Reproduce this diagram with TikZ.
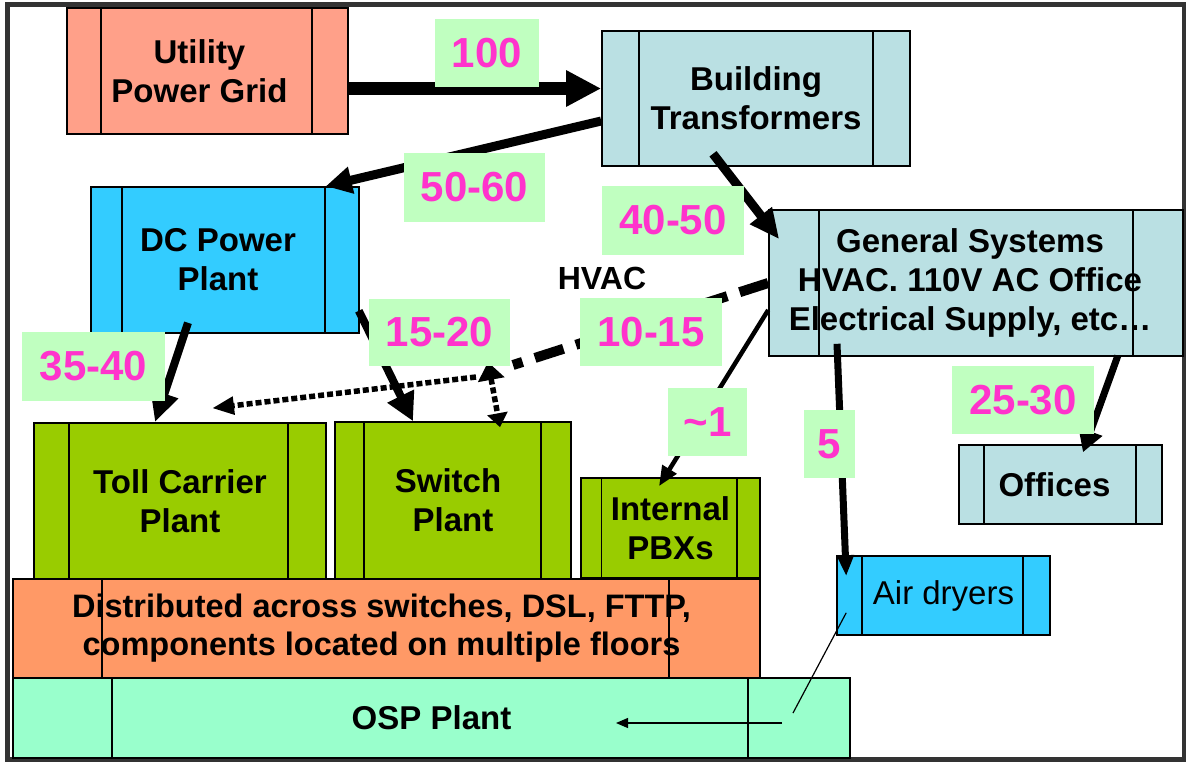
\documentclass[tikz,border=0pt]{standalone}
\usepackage{fontspec}
\setmainfont{Liberation Sans}
\usetikzlibrary{arrows.meta}
\definecolor{cUtil}{RGB}{255,160,137}
\definecolor{cBT}{RGB}{186,224,227}
\definecolor{cDC}{RGB}{51,204,255}
\definecolor{cGreen}{RGB}{153,204,0}
\definecolor{cDist}{RGB}{255,153,102}
\definecolor{cOSP}{RGB}{153,255,204}
\definecolor{cLbl}{RGB}{192,255,192}
\definecolor{cMag}{RGB}{255,51,204}
\definecolor{cFrame}{RGB}{51,51,51}
\tikzset{
  pbox/.style n args={4}{draw=black, line width=1.6pt, inner sep=0pt, align=center,
    minimum width=#1, minimum height=#2,
    font=\bfseries\fontsize{33}{39}\selectfont,
    path picture={
      \draw[line width=1.2pt] ([xshift=#3]path picture bounding box.north west) -- ([xshift=#3]path picture bounding box.south west);
      \draw[line width=1.2pt] ([xshift=-#4]path picture bounding box.north east) -- ([xshift=-#4]path picture bounding box.south east);
    }},
  lbl/.style 2 args={fill=cLbl, draw=none, inner sep=0pt, minimum width=#1, minimum height=#2,
    text=cMag, font=\bfseries\fontsize{42}{42}\selectfont},
  flow/.style={draw=black, line cap=butt},
  dashln/.style={draw=black, line width=10pt, dash pattern=on 30pt off 13pt},
  dotln/.style={draw=black, line width=5.5pt, dash pattern=on 6pt off 3pt},
  thinln/.style={draw=black, line width=1.2pt}
}
\begin{document}
\begin{tikzpicture}[x=1pt,y=-1pt]
\useasboundingbox (0,0) rectangle (1186,761);
\draw[cFrame, line width=5pt] (7,4.5) rectangle (1184,759);

% boxes
\node[pbox={281pt}{126pt}{34pt}{36pt}, fill=cUtil] (util) at (207.5,71) {\hspace*{-16pt}Utility\\\hspace*{-16pt}Power Grid};
\node[pbox={308pt}{135pt}{37pt}{37pt}, fill=cBT] (bt) at (756,98.5) {Building\\Transformers};
\node[pbox={268pt}{146pt}{31pt}{34pt}, fill=cDC] (dc) at (225,260) {\hspace*{-14pt}DC Power\\\hspace*{-14pt}Plant};
\node[pbox={414pt}{146pt}{50pt}{50pt}, fill=cBT] (gs) at (976,283) {\hspace*{-12pt}General Systems\\\hspace*{-12pt}HVAC. 110V AC Office\\\hspace*{-12pt}Electrical Supply, etc…};
\node[pbox={292pt}{156pt}{35pt}{38pt}, fill=cGreen] (toll) at (180,501) {Toll Carrier\\Plant};
\node[pbox={236pt}{157pt}{29pt}{30pt}, fill=cGreen] (sw) at (453,500.5) {\hspace*{-10pt}Switch\\Plant};
\node[pbox={179pt}{100pt}{20.5pt}{23pt}, fill=cGreen] (pbx) at (670.5,528) {Internal\\PBXs};
\node[pbox={747pt}{99pt}{89pt}{91pt}, fill=cDist, font=\bfseries\fontsize{32.5}{38}\selectfont] (dist) at (386.5,628.5) {\hspace*{-10pt}Distributed across switches, DSL, FTTP,\\\hspace*{-10pt}components located on multiple floors};
\node[pbox={837pt}{80pt}{99pt}{102pt}, fill=cOSP] (osp) at (431.5,718) {OSP Plant};
\node[pbox={203pt}{79pt}{25pt}{26pt}, fill=cBT] (off) at (1060.5,484.5) {\hspace*{-12pt}Offices};
\node[pbox={213pt}{79pt}{25pt}{27pt}, fill=cDC, font=\fontsize{33}{39}\selectfont] (air) at (943.5,595.5) {Air dryers};
\node[font=\bfseries\fontsize{32}{32}\selectfont, inner sep=0pt] (hvac) at (602,278) {HVAC};

% connectors
\draw[flow, line width=13pt, -{Triangle[length=35pt,width=34pt]}] (util.east |- 0,88.5) -- (bt.west |- 0,88.5);
\draw[flow, line width=9pt, -{Triangle[length=26pt,width=26pt]}] (bt.west |- 0,121) -- ([xshift=-34pt]dc.north east);
\draw[flow, line width=9pt, -{Triangle[length=30pt,width=26pt]}] ([xshift=-43pt,yshift=13pt]bt.south) -- ([xshift=11pt,yshift=-30pt]gs.north west);
\draw[flow, line width=8pt, -{Triangle[length=30pt,width=27pt]}] ([xshift=-37pt,yshift=11pt]dc.south) -- ([xshift=-25pt]toll.north);
\draw[flow, line width=8pt, -{Triangle[length=28pt,width=28pt]}] ([xshift=-1pt,yshift=23pt]dc.south east) -- ([xshift=-40pt]sw.north);
\coordinate (hv) at (513,365);
\draw[dashln] (gs.west) -- (hv);
\coordinate (jn) at (488,362);
\draw[dotln, {Triangle[length=18pt,width=26pt]}-{Triangle[length=14pt,width=20pt]}] (jn) -- ([xshift=47pt,yshift=-6pt]sw.north);
\coordinate (jl) at (476,377);
\draw[dotln, -{Triangle[length=22pt,width=17pt]}] (jl) -- ([xshift=32pt,yshift=14pt]toll.north);
\draw[flow, line width=4.5pt, -{Triangle[length=20pt,width=16pt]}] ([yshift=-27pt]gs.west) -- ([xshift=-11.5pt,yshift=-9pt]pbx.north);
\draw[flow, line width=7pt, -{Triangle[length=21pt,width=16pt]}] ([xshift=-139pt,yshift=13pt]gs.south) -- ([xshift=10pt,yshift=-21pt]air.north west);
\draw[flow, line width=7pt, -{Triangle[length=22pt,width=24pt]}] ([xshift=-66pt,yshift=1pt]gs.south east) -- ([xshift=22.5pt,yshift=-8pt]off.north);
\coordinate (ad) at (793,713);
\draw[thinln] ([xshift=10pt,yshift=23pt]air.south west) -- (ad);
\coordinate (ao) at (782,723);
\draw[thinln, -{Triangle[length=12pt,width=10pt]}] (ao) -- ([xshift=184.5pt,yshift=-5pt]osp.center);

% labels
\node[lbl={104pt}{68pt}] (l100) at (487,53) {100};
\node[lbl={141pt}{69pt}] (l5060) at (474.5,187.5) {50-60};
\node[lbl={142pt}{69pt}] (l4050) at (673,220.5) {40-50};
\node[lbl={142pt}{68pt}] (l1015) at (651,332) {10-15};
\node[lbl={143pt}{69pt}] (l3540) at (93.5,366.5) {35-40};
\node[lbl={141pt}{67pt}] (l1520) at (439.5,332.5) {15-20};
\node[lbl={79pt}{68pt}] (l1) at (707.5,422) {\textasciitilde 1};
\node[lbl={51pt}{68pt}] (l5) at (829.5,444) {5};
\node[lbl={142pt}{68pt}] (l2530) at (1023,400) {25-30};
\end{tikzpicture}
\end{document}
